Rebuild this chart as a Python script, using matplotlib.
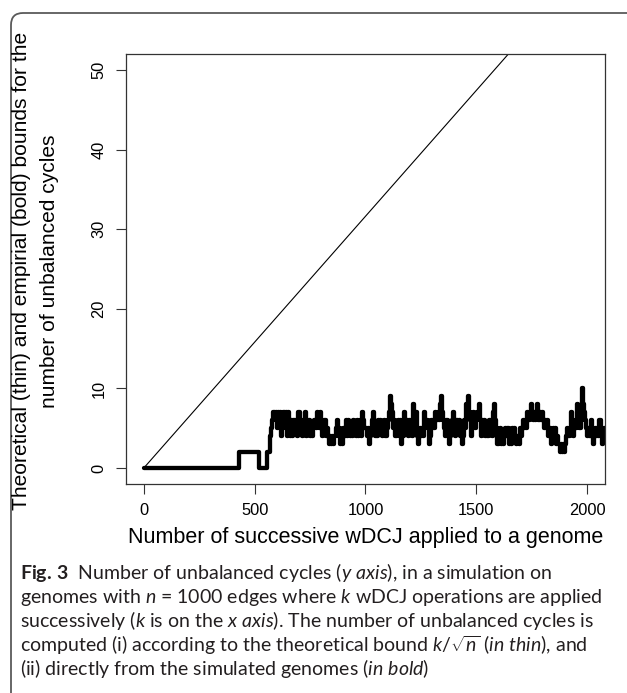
import numpy as np
import matplotlib
matplotlib.use("Agg")
import matplotlib.pyplot as plt
from matplotlib.patches import FancyBboxPatch
from matplotlib.transforms import IdentityTransform

# ---- data ----
n_edges = 1000
k_max = 2080
# empirical number of unbalanced cycles: early change points (k) and values
emp_k_start = [0, 430, 520, 555]
emp_v_start = [0, 2, 0, 2]
# afterwards one reading every 5 operations, from k = 570
emp_step = 5
emp_k0 = 570
emp_values = [
    4, 5, 6, 7, 6, 7,
    5, 7, 6, 7, 4, 6, 7, 5, 7, 4,
    7, 5, 4, 6, 4, 6, 5, 6, 4, 7,
    7, 5, 6, 4, 6, 7, 4, 6, 5, 6,
    4, 5, 4, 5, 6, 5, 7, 6, 5, 7,
    6, 4, 5, 6, 4, 5, 4, 3, 4, 3,
    4, 3, 4, 5, 6, 4, 5, 3, 4, 3,
    5, 4, 6, 4, 6, 5, 4, 5, 4, 6,
    5, 4, 6, 4, 5, 6, 4, 7, 6, 5,
    5, 4, 5, 3, 4, 5, 6, 7, 5, 4,
    4, 6, 5, 6, 5, 4, 5, 6, 4, 5,
    6, 7, 9, 8, 7, 5, 6, 4, 5, 6,
    4, 6, 3, 5, 4, 7, 5, 6, 4, 6,
    5, 6, 4, 8, 6, 7, 4, 3, 4, 5,
    4, 5, 4, 7, 5, 6, 5, 3, 4, 6,
    5, 6, 5, 7, 6, 7, 6, 8, 9, 7,
    6, 5, 4, 6, 4, 3, 4, 5, 6, 7,
    5, 4, 6, 5, 6, 4, 5, 3, 4, 6,
    5, 8, 9, 7, 6, 4, 5, 7, 6, 5,
    6, 7, 8, 6, 4, 6, 5, 6, 4, 5,
    4, 6, 5, 6, 4, 7, 8, 6, 5, 3,
    4, 5, 3, 4, 3, 4, 5, 4, 5, 3,
    4, 3, 5, 4, 5, 4, 3, 4, 3, 5,
    4, 5, 6, 5, 6, 5, 7, 6, 7, 8,
    7, 6, 7, 6, 7, 8, 6, 7, 6, 7,
    6, 5, 6, 5, 6, 4, 5, 3, 4, 5,
    4, 5, 3, 4, 3, 2, 3, 2, 3, 2,
    3, 4, 5, 4, 5, 7, 6, 4, 5, 6,
    5, 8, 7, 5, 6, 10, 8, 7, 6, 5,
    4, 5, 4, 6, 5, 3, 4, 5, 4, 5,
    4, 6, 5, 3, 4, 5, 4,
]
x_ticks = [0, 500, 1000, 1500, 2000]
y_ticks = [0, 10, 20, 30, 40, 50]

emp_k = emp_k_start + [emp_k0 + emp_step * i for i in range(len(emp_values))]
emp_v = emp_v_start + emp_values
theo_k = np.array([0, k_max])
theo_v = theo_k / np.sqrt(n_edges)

W, H = 627, 693
fig = plt.figure(figsize=(W / 100, H / 100), dpi=100)
plt.rcParams['font.family'] = ['Liberation Sans', 'DejaVu Sans']

# rounded outer border
border = FancyBboxPatch((11, -60), 700, (H - 13) + 60,
                        boxstyle="round,pad=0,rounding_size=12",
                        transform=IdentityTransform(), fill=False,
                        edgecolor='#5a5a5a', linewidth=1.3)
fig.patches.append(border)

left, right, top, bottom = 126, 605, 54, 484
ax = fig.add_axes([left / W, 1 - bottom / H, (right - left) / W, (bottom - top) / H])
ax.plot(theo_k, theo_v, color='black', linewidth=0.8)
ax.plot(emp_k, emp_v, color='black', linewidth=3.1, drawstyle='steps-post',
        solid_joinstyle='round', solid_capstyle='round')
ax.set_xlim(-80, 2080)
ax.set_ylim(-2, 52)
ax.set_xticks(x_ticks)
ax.set_yticks(y_ticks)
ax.set_xticklabels([str(t) for t in x_ticks], fontsize=11.8)
ax.set_yticklabels([str(t) for t in y_ticks], fontsize=11.8, rotation=90, va='center')
ax.tick_params(direction='out', length=7, width=0.8, color='#333333', pad=7)
for s in ax.spines.values():
    s.set_linewidth(0.9)
    s.set_color('#333333')

fig.text((left + right) / 2 / W, 1 - 537 / H,
         "Number of successive wDCJ applied to a genome",
         ha='center', va='center', fontsize=15.5)
ycen = 1 - 271 / H
fig.text(22 / W, ycen, "Theoretical (thin) and empirial (bold) bounds for the",
         rotation=90, ha='center', va='center', fontsize=15.1)
fig.text(50 / W, ycen, "number of unbalanced cycles",
         rotation=90, ha='center', va='center', fontsize=15.1)

# caption
plt.rcParams['mathtext.fontset'] = 'custom'
plt.rcParams['mathtext.rm'] = 'Lato'
plt.rcParams['mathtext.it'] = 'Lato:italic'
plt.rcParams['mathtext.bf'] = 'Lato:bold'
cap = [
    r"$\mathbf{Fig.\,3}$  Number of unbalanced cycles ($\mathit{y\ axis}$), in a simulation on",
    r"genomes with $n$ = 1000 edges where $k$ wDCJ operations are applied",
    r"successively ($k$ is on the $\mathit{x\ axis}$). The number of unbalanced cycles is",
    r"computed (i) according to the theoretical bound $k/\sqrt{n}$ ($\mathit{in\ thin}$), and",
    r"(ii) directly from the simulated genomes ($\mathit{in\ bold}$)",
]
cap_y = [573, 598, 621, 645, 668]
for line, yy in zip(cap, cap_y):
    fig.text(20 / W, 1 - yy / H, line, ha='left', va='center', fontsize=14.0,
             family=['Lato', 'DejaVu Sans'], color='#231f20')

fig.savefig("out.png", dpi=100)
